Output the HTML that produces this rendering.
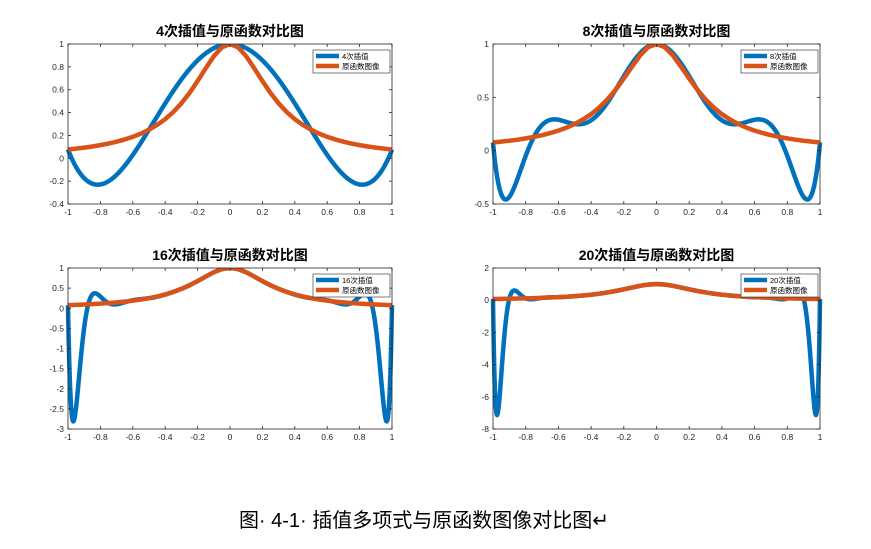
<!DOCTYPE html>
<html><head><meta charset="utf-8">
<style>
html,body{margin:0;padding:0;background:#fff;width:871px;height:549px;overflow:hidden;font-family:"Liberation Sans","Noto Sans CJK SC",sans-serif}
svg{display:block}
</style></head>
<body>
<svg id="root" width="871" height="549" xmlns="http://www.w3.org/2000/svg">
<text x="424" y="527" text-anchor="middle" font-size="20" fill="#000" font-family="Liberation Sans, Noto Sans CJK SC, sans-serif">图· 4-1· 插值多项式与原函数图像对比图↵</text>
</svg>
<script>
// interpolation node values (equally spaced on [-1,1]; right half incl. 0, symmetric)
const nodes4 = [1, 0.25, 0.0769];
const nodes8 = [1, 0.571, 0.25, 0.129, 0.0769];
const nodes16 = [1, 0.842, 0.571, 0.372, 0.25, 0.176, 0.129, 0.0982, 0.0769];
const nodes20 = [1, 0.893, 0.676, 0.481, 0.342, 0.25, 0.188, 0.145, 0.115, 0.0933, 0.0769];
// original function samples at x = 0, 0.05, ..., 1 (symmetric)
const origVals = [1,0.971,0.893,0.787,0.676,0.571,0.481,0.405,0.342,0.292,0.25,0.216,0.188,0.165,0.145,0.129,0.115,0.103,0.0933,0.0845,0.0769];
const xTicks = [-1,-0.8,-0.6,-0.4,-0.2,0,0.2,0.4,0.6,0.8,1];
const yTicksA = [-0.4,-0.2,0,0.2,0.4,0.6,0.8,1];
const yTicksB = [-0.5,0,0.5,1];
const yTicksC = [-3,-2.5,-2,-1.5,-1,-0.5,0,0.5,1];
const yTicksD = [-8,-6,-4,-2,0,2];
const titles = ["4次插值与原函数对比图","8次插值与原函数对比图","16次插值与原函数对比图","20次插值与原函数对比图"];
const legendLabels = ["4次插值","8次插值","16次插值","20次插值"];

const NS="http://www.w3.org/2000/svg";
const root=document.getElementById('root');
function mk(t,a,p){const e=document.createElementNS(NS,t);for(const k in a)e.setAttribute(k,a[k]);(p||root).appendChild(e);return e;}
function full(half){const n=half.length-1;const ys=[];for(let i=n;i>=1;i--)ys.push(half[i]);return ys.concat(half);}
function lagr(ys,x){const n=ys.length-1;let s=0;for(let i=0;i<=n;i++){const xi=-1+2*i/n;let L=1;for(let j=0;j<=n;j++){if(j!==i){const xj=-1+2*j/n;L*=(x-xj)/(xi-xj);}}s+=ys[i]*L;}return s;}

const panels=[
 {x0:68,x1:392,y0:44,y1:204,ymin:-0.4,ymax:1,ticks:yTicksA,nodes:nodes4,lx:313,ly:50},
 {x0:493,x1:820,y0:44,y1:204,ymin:-0.5,ymax:1,ticks:yTicksB,nodes:nodes8,lx:741,ly:50},
 {x0:68,x1:392,y0:268,y1:429,ymin:-3,ymax:1,ticks:yTicksC,nodes:nodes16,lx:313,ly:274},
 {x0:493,x1:820,y0:268,y1:429,ymin:-8,ymax:2,ticks:yTicksD,nodes:nodes20,lx:741,ly:274}
];
panels.forEach((p,k)=>{
 const g=mk('g',{});
 
 
 const sx=v=>p.x0+(v+1)/2*(p.x1-p.x0);
 const sy=v=>p.y1-(v-p.ymin)/(p.ymax-p.ymin)*(p.y1-p.y0);
 const t=mk('text',{x:(p.x0+p.x1)/2,y:p.y0-8,'text-anchor':'middle','font-size':14,'font-weight':'bold',fill:'#000'},g);
 t.textContent=titles[k];
 
 
 const cid='c'+k;
 const cp=mk('clipPath',{id:cid},g);mk('rect',{x:p.x0-3,y:p.y0,width:p.x1-p.x0+6,height:p.y1-p.y0},cp);
 const ys=full(p.nodes);let d='';
 for(let i=0;i<=800;i++){const x=-1+2*i/800;d+=(i?'L':'M')+sx(x).toFixed(2)+','+sy(lagr(ys,x)).toFixed(2);}
 const c1=mk('path',{d:d,fill:'none',stroke:'#0072BD','stroke-width':4.5,'clip-path':'url(#'+cid+')','stroke-linejoin':'round'},g);
 
 
 const ov=full(origVals);let d2='';
 ov.forEach((v,i)=>{const x=-1+i*0.05;d2+=(i?'L':'M')+sx(x).toFixed(2)+','+sy(v).toFixed(2);});
 const c2=mk('path',{d:d2,fill:'none',stroke:'#D95319','stroke-width':4.5,'clip-path':'url(#'+cid+')','stroke-linejoin':'round'},g);
 
 
 const box=mk('rect',{x:p.x0,y:p.y0,width:p.x1-p.x0,height:p.y1-p.y0,fill:'none',stroke:'#262626','stroke-width':0.8},g);
 
 
 xTicks.forEach(v=>{const x=sx(v);
  mk('line',{x1:x,x2:x,y1:p.y1,y2:p.y1-3,stroke:'#262626','stroke-width':0.8},g);
  mk('line',{x1:x,x2:x,y1:p.y0,y2:p.y0+3,stroke:'#262626','stroke-width':0.8},g);
  const l=mk('text',{x:x,y:p.y1+11,'text-anchor':'middle','font-size':8.5,fill:'#262626'},g);l.textContent=String(v);
  
  });
 p.ticks.forEach(v=>{const y=sy(v);
  mk('line',{x1:p.x0,x2:p.x0+3,y1:y,y2:y,stroke:'#262626','stroke-width':0.8},g);
  mk('line',{x1:p.x1,x2:p.x1-3,y1:y,y2:y,stroke:'#262626','stroke-width':0.8},g);
  const l=mk('text',{x:p.x0-4,y:y+3,'text-anchor':'end','font-size':8.5,fill:'#262626'},g);l.textContent=String(v);
  
  });
 const lg=mk('g',{},g);
 
 
 mk('rect',{x:p.lx,y:p.ly,width:77,height:23,fill:'#fff',stroke:'#262626','stroke-width':0.6},lg);
 mk('line',{x1:p.lx+3,x2:p.lx+26,y1:p.ly+6,y2:p.ly+6,stroke:'#0072BD','stroke-width':4.5},lg);
 mk('line',{x1:p.lx+3,x2:p.lx+26,y1:p.ly+16,y2:p.ly+16,stroke:'#D95319','stroke-width':4.5},lg);
 const a=mk('text',{x:p.lx+29,y:p.ly+9,'font-size':7.5,fill:'#000'},lg);a.textContent=legendLabels[k];
 
 
 const b=mk('text',{x:p.lx+29,y:p.ly+19,'font-size':7.5,fill:'#000'},lg);b.textContent='原函数图像';
 
 
});
</script>
</body></html>
